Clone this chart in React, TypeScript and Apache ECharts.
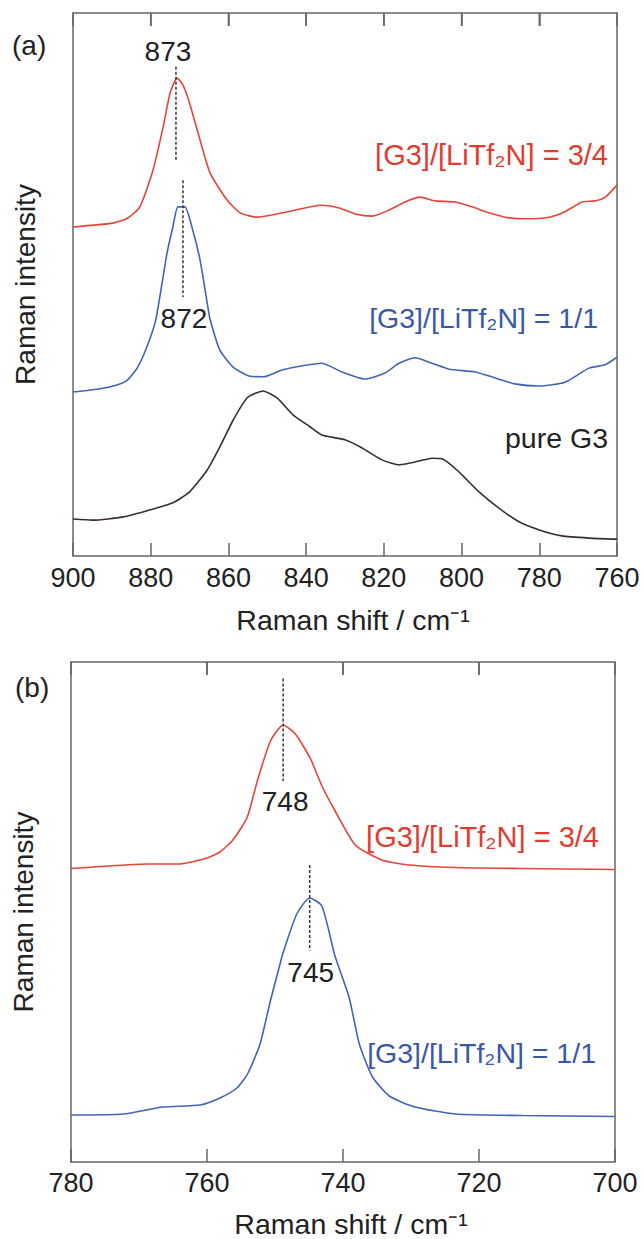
import React, { useEffect, useRef } from "react";
import * as echarts from "echarts";

const FONT = "'Liberation Sans', Arial, Helvetica, sans-serif";
const RED = "#e5443a";
const BLUE = "#4264b6";
const DARK = "#3a2e2e";
const RED_TXT = "#e23b30";
const BLUE_TXT = "#3a58a8";
const AXIS = "#666666";
const TXT = "#222222";

// Panel (a): Raman shift (cm-1) vs. normalized intensity (offset, a.u.)
const redA: number[][] = [
  [900, 60.6], [889.7, 61.3], [886, 62.2], [882.8, 64.3], [879.4, 71.1], [876.8, 79.0],
  [875, 85.3], [873.2, 88.0], [871.7, 86.7], [870, 83.4], [867.3, 76.6], [864.7, 70.5],
  [860.4, 65.6], [857, 63.2], [852.6, 62.4], [846, 63.2], [836, 64.6], [831.5, 64.1],
  [827.4, 63.0], [823, 62.6], [818.7, 63.7], [814.6, 65.2], [810.7, 66.1], [806.8, 65.4],
  [801.7, 65.2], [797.3, 64.3], [793, 63.2], [788.8, 62.4], [783.7, 62.1], [777.5, 62.4],
  [773.4, 63.4], [769, 65.2], [765.7, 65.4], [763, 66.1], [760, 68.3],
];
const blueA: number[][] = [
  [900, 30.2], [893, 30.8], [888.7, 31.5], [886, 32.4], [883.5, 34.6], [881, 38.5],
  [878.7, 43.5], [875.8, 55.8], [874.3, 60.6], [873, 64.3], [871.2, 64.3], [869.4, 60.6],
  [867.3, 54.5], [865.3, 45.9], [864.7, 43.5], [862.2, 37.9], [858.8, 34.8], [854.5, 33.1],
  [851, 33.0], [846, 34.3], [836, 35.5], [830.8, 33.9], [824.9, 32.6], [819.7, 33.7],
  [816.1, 35.5], [812, 36.5], [807.6, 35.5], [803.2, 34.4], [796.5, 33.9], [791.4, 32.8],
  [786.3, 31.7], [780, 31.3], [773.4, 32.0], [767.2, 34.6], [763.1, 35.2], [760, 36.6],
];
const blackA: number[][] = [
  [900, 6.8], [894.9, 6.6], [887.1, 7.2], [880.2, 8.5], [874.3, 9.8], [870, 11.8],
  [865.5, 15.8], [862.2, 20.1], [858.8, 25.0], [855.2, 29.1], [851.1, 30.4], [847.5, 29.1],
  [843.4, 26.0], [839, 23.8], [836, 22.3], [830, 21.4], [825.6, 19.9], [820.5, 17.7],
  [815.9, 16.8], [812, 17.3], [807.6, 18.0], [805, 17.9], [800.7, 15.5], [795.5, 11.8],
  [790.4, 8.8], [785.2, 6.3], [780, 4.8], [774.2, 3.7], [767.2, 3.3], [760, 3.1],
];

// Panel (b)
const redB: number[][] = [
  [780, 58.7], [775.7, 59.1], [768.8, 59.6], [764.4, 59.6], [760, 60.8], [758.1, 62.0],
  [756.2, 64.4], [754.1, 68.9], [752.6, 76.2], [750.7, 84.1], [748.8, 87.4], [747, 85.6],
  [744.8, 80.7], [743.1, 75.2], [741.2, 70.3], [738.2, 63.4], [734.3, 60.4], [730.3, 59.4],
  [723.5, 58.9], [713.7, 58.7], [700, 58.5],
];
const blueB: number[][] = [
  [780, 9.4], [772.3, 9.6], [766.5, 11.0], [761, 11.4], [758.1, 12.8], [755.6, 14.8],
  [754, 17.7], [752.2, 23.6], [750.7, 32.1], [749.3, 39.4], [748.8, 41.9], [746.8, 49.6],
  [744.9, 52.8], [743.1, 51.2], [741.2, 41.3], [739.1, 32.9], [737.6, 23.6], [735.7, 17.1],
  [733.2, 13.2], [729.4, 11.0], [723.5, 9.6], [713.7, 9.3], [700, 9.1],
];

// Peak markers: [label, position (cm-1), lower end, upper end]
const peaksA: [string, number, number, number][] = [
  ["873", 873.5, 72.9, 90.1],
  ["872", 871.7, 47.7, 69.2],
];
const peaksB: [string, number, number, number][] = [
  ["748", 748.8, 76.2, 96.7],
  ["745", 744.9, 42.3, 59.4],
];

// Mirrored tick positions along the top frame
const topTicksA = [880, 860, 840, 820, 800, 780];
const topTicksB = [760, 740, 720];

const RANGE_A = [760, 900];
const RANGE_B = [700, 780];
const Y_RANGE = [0, 100];
const X_TITLE = "Raman shift / cm\u207B\u00B9";
const Y_TITLE = "Raman intensity";

function bottomX(grid: number, range: number[], nameGap: number, labelMargin: number) {
  return {
    type: "value",
    gridIndex: grid,
    position: "bottom",
    min: range[0],
    max: range[1],
    interval: 20,
    inverse: true,
    axisLine: { show: true, onZero: false, lineStyle: { color: AXIS, width: 1.5 } },
    axisTick: { show: true, inside: true, length: 13, lineStyle: { color: AXIS, width: 1.5 } },
    axisLabel: { show: true, fontSize: 27, color: TXT, fontFamily: FONT, margin: labelMargin },
    splitLine: { show: false },
    name: X_TITLE,
    nameLocation: "middle",
    nameGap,
    nameTextStyle: { fontSize: 28.5, color: TXT, fontFamily: FONT, padding: [0, 0, 0, 16] },
  };
}
function topX(grid: number, range: number[]) {
  return {
    type: "value",
    gridIndex: grid,
    position: "top",
    min: range[0],
    max: range[1],
    interval: 20,
    inverse: true,
    axisLine: { show: true, onZero: false, lineStyle: { color: AXIS, width: 1.5 } },
    axisTick: { show: true, inside: true, length: 13, lineStyle: { color: AXIS, width: 1.5 } },
    axisLabel: { show: false },
    splitLine: { show: false },
  };
}
function leftY(grid: number) {
  return {
    type: "value",
    gridIndex: grid,
    position: "left",
    min: Y_RANGE[0],
    max: Y_RANGE[1],
    axisLine: { show: true, onZero: false, lineStyle: { color: AXIS, width: 1.5 } },
    axisTick: { show: false },
    axisLabel: { show: false },
    splitLine: { show: false },
    name: Y_TITLE,
    nameLocation: "middle",
    nameRotate: 90,
    nameGap: 34,
    nameTextStyle: { fontSize: 28, color: TXT, fontFamily: FONT },
  };
}
function rightY(grid: number) {
  return {
    type: "value",
    gridIndex: grid,
    position: "right",
    min: Y_RANGE[0],
    max: Y_RANGE[1],
    axisLine: { show: true, onZero: false, lineStyle: { color: AXIS, width: 1.5 } },
    axisTick: { show: false },
    axisLabel: { show: false },
    splitLine: { show: false },
  };
}

function curve(data: number[][], color: string, xi: number, yi: number) {
  return {
    type: "line",
    xAxisIndex: xi,
    yAxisIndex: yi,
    data,
    showSymbol: false,
    smooth: 0.2,
    lineStyle: { color, width: 1.6 },
    silent: true,
  };
}

// inward tick marks hanging from the top frame (segments broken by "-")
function topTickSeries(ticks: number[], xi: number, yi: number, len: number) {
  const data: any[] = [];
  ticks.forEach((t) => {
    data.push([t, Y_RANGE[1]], [t, Y_RANGE[1] - len], [t, "-"]);
  });
  return {
    type: "line",
    xAxisIndex: xi,
    yAxisIndex: yi,
    data,
    showSymbol: false,
    connectNulls: false,
    clip: false,
    silent: true,
    lineStyle: { color: AXIS, width: 1.5 },
    z: 3,
  };
}

function peakSeries(
  p: [string, number, number, number],
  xi: number,
  yi: number,
  labelAtTop: boolean,
  offset: number[],
  distance: number
) {
  const [label, x, lo, hi] = p;
  const lbl = {
    show: true,
    formatter: label,
    position: labelAtTop ? "top" : "bottom",
    distance,
    offset,
    fontSize: 28,
    color: TXT,
    fontFamily: FONT,
  };
  return {
    type: "line",
    xAxisIndex: xi,
    yAxisIndex: yi,
    symbol: "circle",
    symbolSize: 0,
    showSymbol: true,
    silent: true,
    lineStyle: { color: "#333", width: 1.5, type: [3, 2] },
    itemStyle: { color: "#333" },
    data: [
      { value: [x, hi], label: labelAtTop ? lbl : { show: false } },
      { value: [x, lo], label: labelAtTop ? { show: false } : lbl },
    ],
  };
}

function txt(text: string, x: number, y: number, color: string, align: string, size = 29) {
  return {
    type: "text",
    x,
    y,
    silent: true,
    style: {
      text,
      fill: color,
      fontSize: size,
      fontFamily: FONT,
      align,
      textAlign: align,
      verticalAlign: "middle",
      textVerticalAlign: "middle",
    },
  };
}

const option = {
  animation: false,
  backgroundColor: "#ffffff",
  grid: [
    { left: 73, top: 13, width: 544, height: 543, containLabel: false },
    { left: 71, top: 662, width: 544, height: 508, containLabel: false },
  ],
  xAxis: [bottomX(0, RANGE_A, 49, 8), topX(0, RANGE_A), bottomX(1, RANGE_B, 47, 7), topX(1, RANGE_B)],
  yAxis: [leftY(0), rightY(0), leftY(1), rightY(1)],
  series: [
    curve(redA, RED, 0, 0),
    curve(blueA, BLUE, 0, 0),
    curve(blackA, DARK, 0, 0),
    curve(redB, RED, 2, 2),
    curve(blueB, BLUE, 2, 2),
    topTickSeries(topTicksA, 1, 1, 2.4),
    topTickSeries(topTicksB, 3, 3, 2.56),
    peakSeries(peaksA[0], 1, 1, true, [-8, 0], 1),
    peakSeries(peaksA[1], 1, 1, false, [1, 0], 8),
    peakSeries(peaksB[0], 3, 3, false, [2, 0], 6),
    peakSeries(peaksB[1], 3, 3, false, [1, 0], 8),
  ],
  graphic: [
    txt("(a)", 12, 45, TXT, "left", 28),
    txt("(b)", 15, 687, TXT, "left", 28),
    txt("[G3]/[LiTf\u2082N] = 3/4", 608, 155, RED_TXT, "right"),
    txt("[G3]/[LiTf\u2082N] = 1/1", 598, 318, BLUE_TXT, "right", 28.5),
    txt("pure G3", 608, 438, TXT, "right", 28.5),
    txt("[G3]/[LiTf\u2082N] = 3/4", 599, 837, RED_TXT, "right"),
    txt("[G3]/[LiTf\u2082N] = 1/1", 596, 1053, BLUE_TXT, "right", 28.5),
  ],
};

export default function App() {
  const ref = useRef<HTMLDivElement>(null);
  useEffect(() => {
    document.body.style.margin = "0";
    const chart = echarts.init(ref.current as HTMLDivElement, undefined, { renderer: "svg" });
    chart.setOption(option as any);
    return () => chart.dispose();
  }, []);
  return <div ref={ref} style={{ width: 644, height: 1239, background: "#ffffff" }} />;
}
